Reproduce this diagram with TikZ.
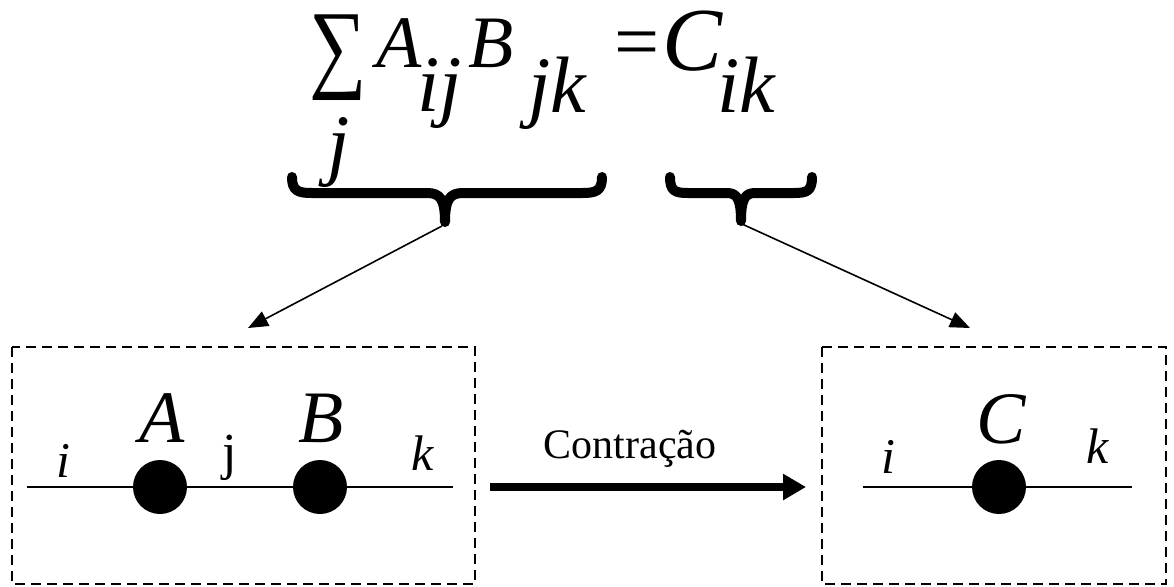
\documentclass[tikz,border=0pt]{standalone}
\usepackage{fontspec}
\setmainfont{Liberation Serif}
\usetikzlibrary{arrows.meta}
\newcommand{\sizedfont}[1]{\fontsize{#1}{#1}\selectfont}

\begin{document}
\begin{tikzpicture}[x=0.5pt,y=-0.5pt,outer sep=0pt,inner sep=0pt,
formula/.style={anchor=base west,font=\sizedfont{37pt}\itshape},
subs/.style={anchor=base west,font=\sizedfont{40pt}\itshape},
lab/.style={anchor=base,font=\sizedfont{37pt}\itshape},
idx/.style={anchor=base,font=\sizedfont{25pt}\itshape},
dot/.style={circle,fill=black,minimum size=27pt},
leg/.style={line width=0.85pt},
dashbox/.style={line width=1pt,dash pattern=on 5pt off 3pt},
brace/.style={line width=5pt,line cap=round,line join=round},
pointer/.style={line width=0.8pt,-{Triangle[length=10pt,width=8pt]}},
bigarrow/.style={line width=4pt,-{Triangle[length=11.5pt,width=12.5pt]}},
]
\useasboundingbox (0,0) rectangle (1174,586);

% formula
\node[anchor=center,font=\sizedfont{38pt}] (sum) at (338,58) {\scalebox{1.06}[1.3]{∑}};
\node[formula] (Aup) at (376,67) {A};
\node[subs] (ij) at (417,111) {ij};
\node[formula] (Bup) at (468,67) {B};
\node[subs] (jk) at (528,112) {jk};
\node[anchor=center,font=\sizedfont{40pt}] (eq) at (637,50) {=};
\node[formula,font=\sizedfont{45pt}\itshape] (Cup) at (662,70) {C};
\node[subs] (ik) at (717,112) {ik};
\node[subs,anchor=center] (jsum) at (339,153) {j};

% braces
\draw[brace] (292,177) .. controls (292,191) and (298,193) .. (312,193) -- (427,193)
  .. controls (440,193) and (445,199) .. (445,222)
  .. controls (445,199) and (450,193) .. (463,193) -- (582,193)
  .. controls (596,193) and (602,191) .. (602,177);
\draw[brace] (670,177) .. controls (670,191) and (675,193) .. (688,193) -- (727,193)
  .. controls (737,193) and (741,199) .. (741,221)
  .. controls (741,199) and (745,193) .. (755,193) -- (794,193)
  .. controls (807,193) and (812,191) .. (812,177);
\coordinate (ltip) at (442,226);
\coordinate (rtip) at (742,224);
\coordinate (ltarget) at (248,328);
\coordinate (rtarget) at (970,328);
\draw[pointer] (ltip) -- (ltarget);
\draw[pointer] (rtip) -- (rtarget);

% boxes
\draw[dashbox] (12,347) rectangle (475,584);
\draw[dashbox] (822,347) rectangle (1166,584);

% A -- B
\coordinate (iL) at (27,487);
\coordinate (kL) at (453,487);
\node[dot] (nA) at (160,487) {};
\node[dot] (nB) at (320,487) {};
\draw[leg] (iL) -- (nA) -- (nB) -- (kL);
\node[lab] (labA) at (162,442) {A};
\node[lab] (labB) at (321,442) {B};
\node[idx] (li) at (63,477) {i};
\node[idx,font=\sizedfont{26pt}] (lj) at (230,469) {j};
\node[idx] (lk) at (423,470) {k};

% contraction
\node[anchor=base,font=\sizedfont{21pt}] (contr) at (630,458) {Contração};
\coordinate (cstart) at (490,487);
\coordinate (cend) at (806,487);
\draw[bigarrow] (cstart) -- (cend);

% C
\coordinate (iR) at (863,487);
\coordinate (kR) at (1132,487);
\node[dot] (nC) at (999,487) {};
\draw[leg] (iR) -- (nC) -- (kR);
\node[lab] (labC) at (1001,443) {C};
\node[idx] (ri) at (888,473) {i};
\node[idx] (rk) at (1098,463) {k};
\end{tikzpicture}
\end{document}
